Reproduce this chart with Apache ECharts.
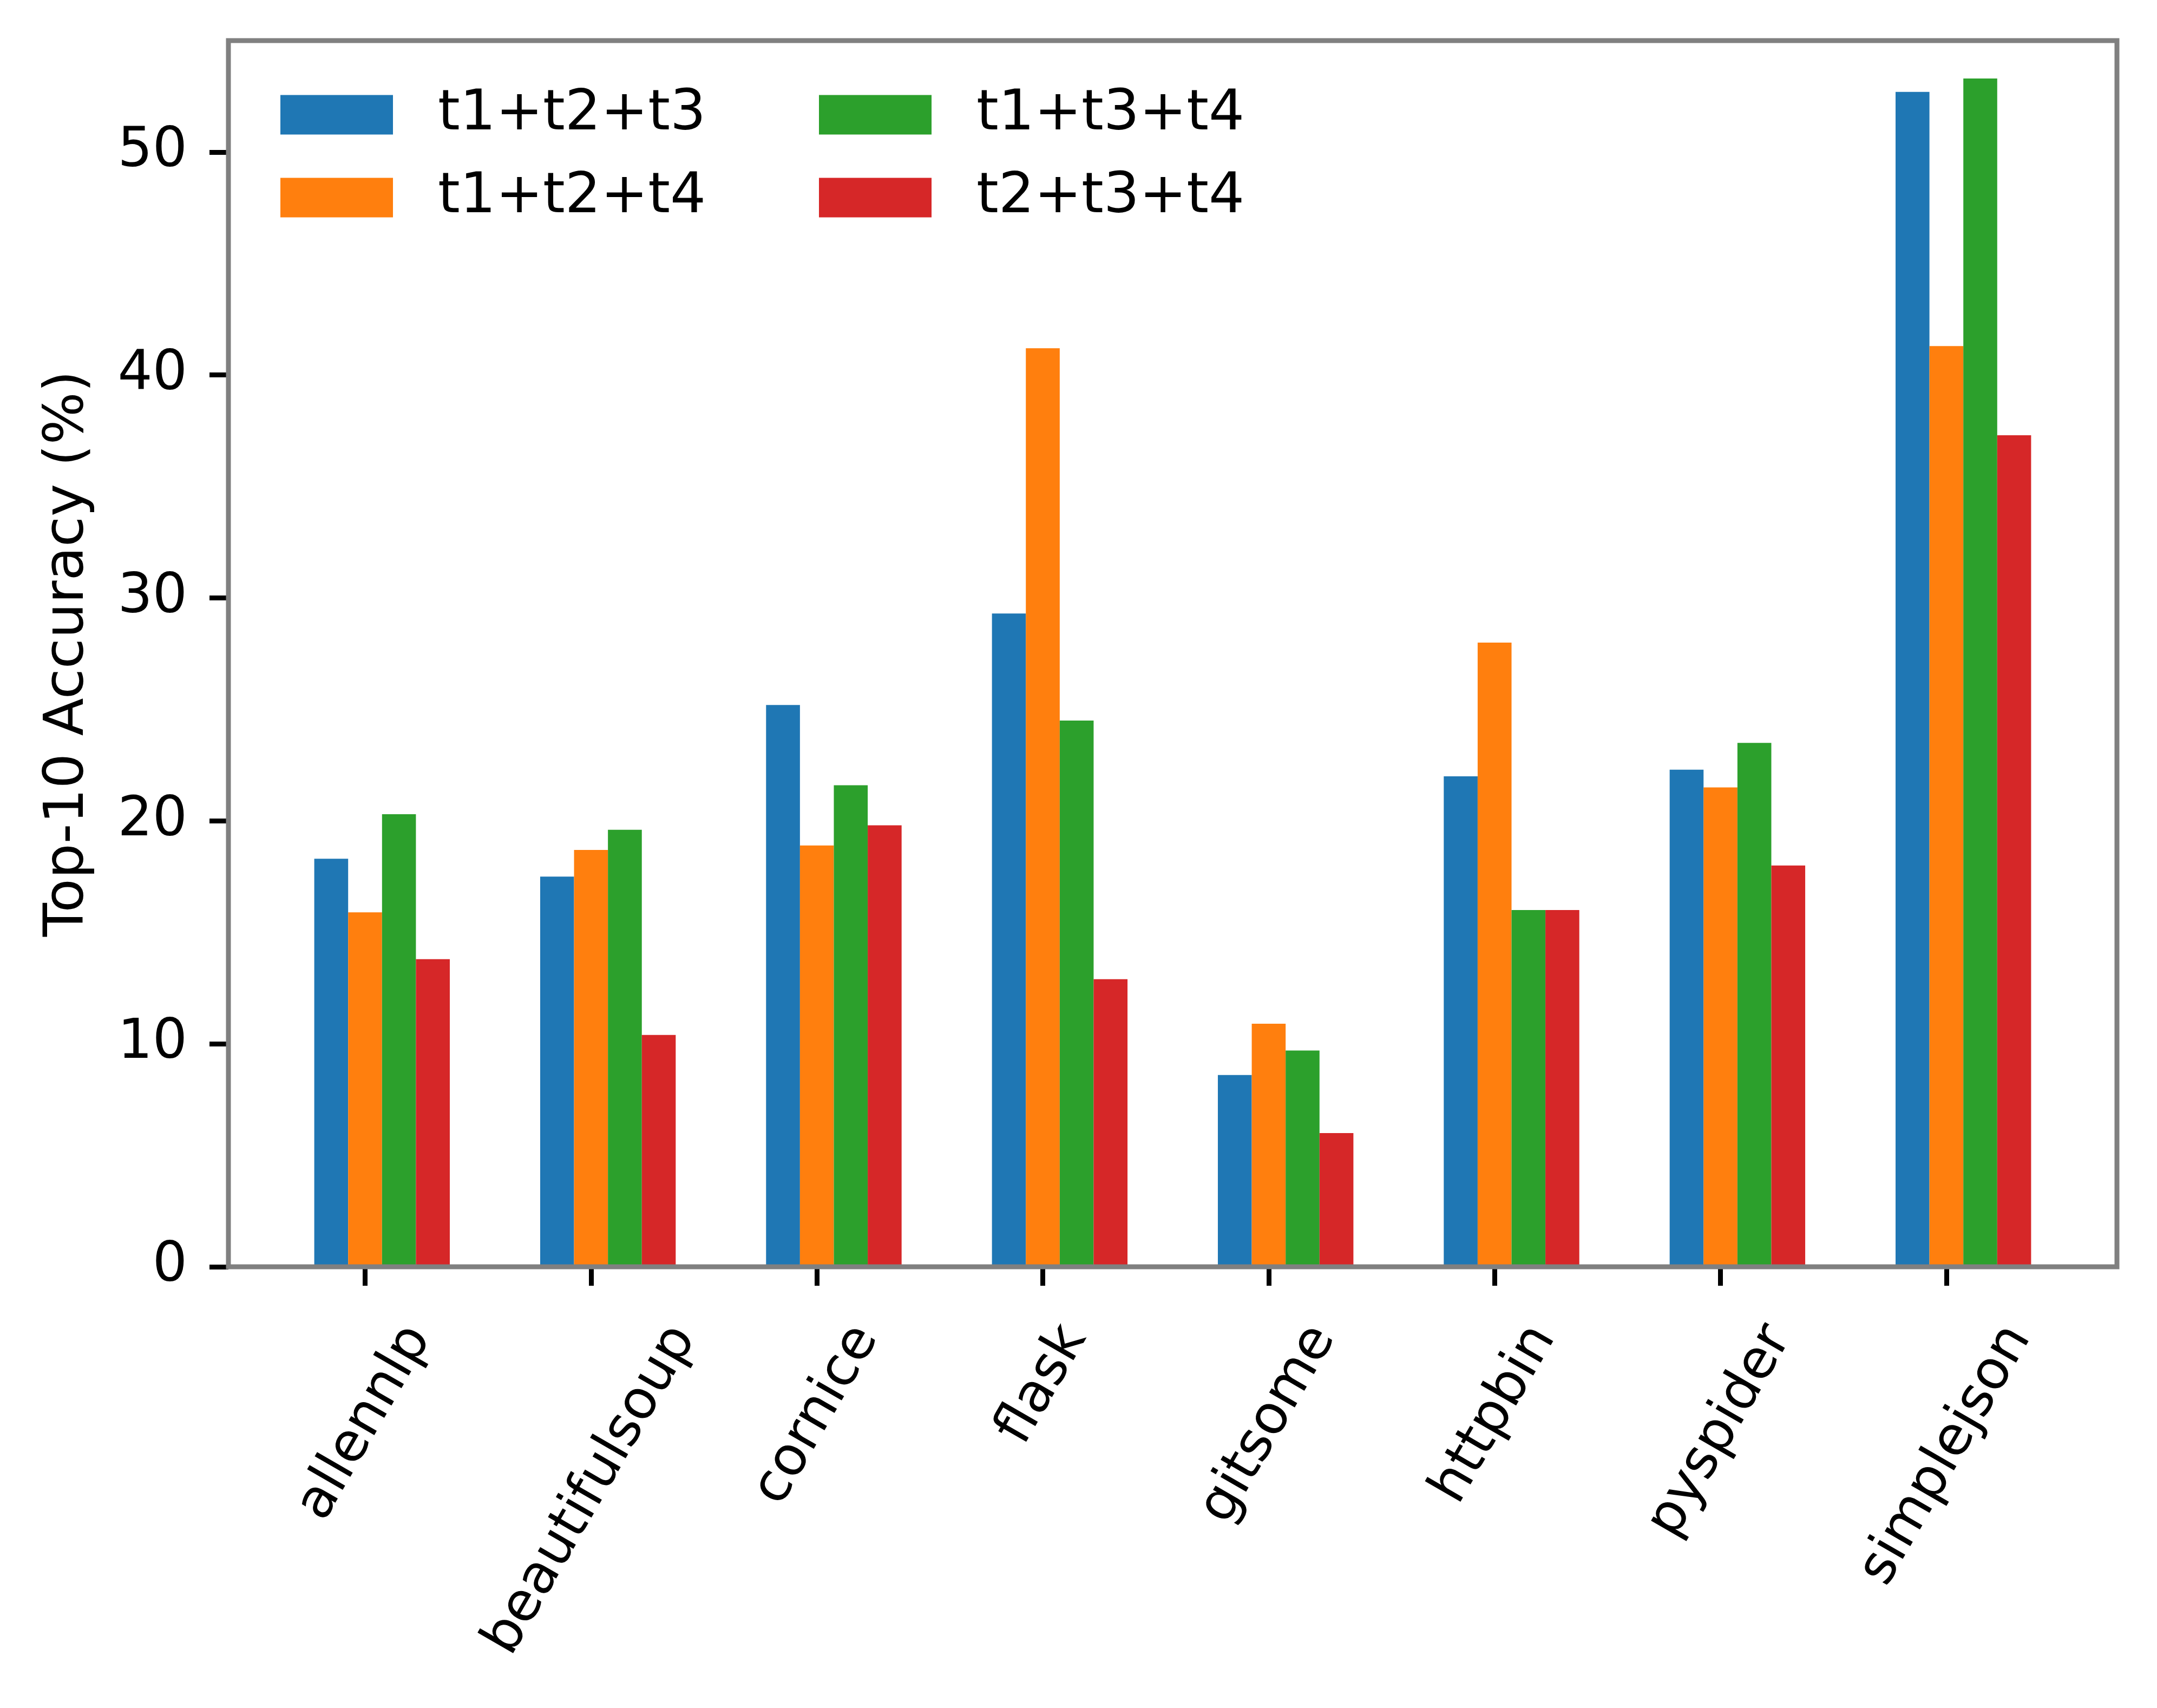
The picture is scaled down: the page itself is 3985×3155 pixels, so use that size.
<!DOCTYPE html>
<html><head><meta charset="utf-8">
<script src="https://cdn.jsdelivr.net/npm/echarts@6/dist/echarts.min.js"></script>
<style>html,body{margin:0;padding:0;background:#fff}#c{width:3985px;height:3155px}</style>
</head><body><div id="c"></div>
<script>
const categories = ['allennlp','beautifulsoup','cornice','flask','gitsome','httpbin','pyspider','simplejson'];
const seriesNames = ['t1+t2+t3','t1+t2+t4','t1+t3+t4','t2+t3+t4'];
const t1t2t3 = [18.3, 17.5, 25.2, 29.3, 8.6, 22.0, 22.3, 52.7];
const t1t2t4 = [15.9, 18.7, 18.9, 41.2, 10.9, 28.0, 21.5, 41.3];
const t1t3t4 = [20.3, 19.6, 21.6, 24.5, 9.7, 16.0, 23.5, 53.3];
const t2t3t4 = [13.8, 10.4, 19.8, 12.9, 6.0, 16.0, 18.0, 37.3];
const yTicks = [0, 10, 20, 30, 40, 50];
const xTicks = [0, 1, 2, 3, 4, 5, 6, 7];
const colors = ['#1f77b4', '#ff7f0e', '#2ca02c', '#d62728'];
const values = [t1t2t3, t1t2t4, t1t3t4, t2t3t4];

const gridL = 422, gridT = 75, gridRx = 3911, gridBy = 2340;
const xMin = -0.605, xMax = 7.755;
const pxPerUnit = (gridRx - gridL) / (xMax - xMin);
const barW = 0.15 * pxPerUnit;
const shift = 0.075;
const FS = 101, FSX = 100, FSL = 104, FSN = 102;
const FONT = 'DejaVu Sans';

const ctx = document.createElement('canvas').getContext('2d');
ctx.font = FSX + 'px "DejaVu Sans"';
const labelTop = 92;
const lblMargin = -40;
const rich = {};
categories.forEach((c, i) => {
  const L = ctx.measureText(c).width;
  const Dm = labelTop + 0.433 * L + 0.25 * FSX;
  const E = Dm - lblMargin;
  rich['c' + i] = {
    fontSize: FSX, fontFamily: FONT, color: '#000',
    padding: [E, Math.max(0, 0.866 * E - L / 2), 0, 0]
  };
});

const chart = echarts.init(document.getElementById('c'), null, {renderer: 'canvas'});
const tickStyle = {color: '#000', width: 9};
const legendBase = {
  orient: 'vertical', top: 160,
  itemWidth: 208, itemHeight: 73, itemGap: 49, padding: 0, icon: 'rect', selectedMode: false,
  textStyle: {fontSize: FSL, fontFamily: FONT, color: '#000', padding: [0, 0, 0, 78]}
};
chart.setOption({
  animation: false,
  backgroundColor: '#fff',
  textStyle: {fontFamily: FONT},
  grid: {
    left: gridL, top: gridT, width: gridRx - gridL, height: gridBy - gridT,
    show: true, borderColor: '#808080', borderWidth: 9, backgroundColor: 'transparent', z: 10
  },
  legend: [
    Object.assign({}, legendBase, {data: [seriesNames[0], seriesNames[1]], left: 518}),
    Object.assign({}, legendBase, {data: [seriesNames[2], seriesNames[3]], left: 1513})
  ],
  xAxis: {
    type: 'value', min: xMin, max: xMax,
    axisLine: {show: false, onZero: false},
    splitLine: {show: false},
    axisTick: {show: true, customValues: xTicks, length: 35, lineStyle: tickStyle},
    axisLabel: {
      customValues: xTicks, rotate: 60, margin: lblMargin,
      formatter: v => { const i = Math.round(v); return '{c' + i + '|' + categories[i] + '}'; },
      rich: rich
    }
  },
  yAxis: {
    type: 'value', min: 0, max: 55,
    name: 'Top-10 Accuracy (%)', nameLocation: 'middle', nameGap: 245,
    nameTextStyle: {fontSize: FSN, fontFamily: FONT, color: '#000'},
    axisLine: {show: false, onZero: false},
    splitLine: {show: false},
    axisTick: {show: true, customValues: yTicks, length: 35, lineStyle: tickStyle},
    axisLabel: {customValues: yTicks, fontSize: FS, fontFamily: FONT, color: '#000', margin: 76}
  },
  series: seriesNames.map((n, k) => ({
    name: n, type: 'bar',
    data: values[k].map((v, i) => [i + shift, v]),
    barWidth: barW, barGap: '0%',
    itemStyle: {color: colors[k]}
  }))
});
</script></body></html>
